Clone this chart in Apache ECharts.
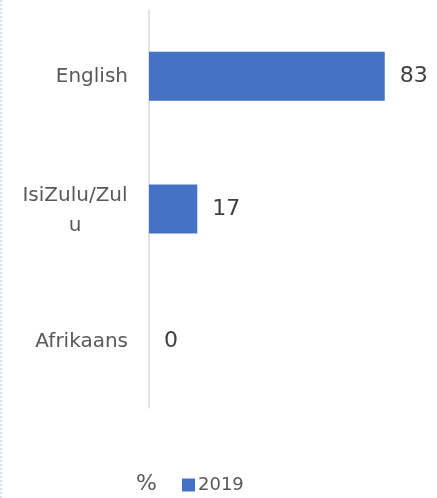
<!DOCTYPE html>
<html>
<head>
<meta charset="utf-8">
<script src="https://cdn.jsdelivr.net/npm/echarts@6/dist/echarts.min.js"></script>
<style>
html,body{margin:0;padding:0;background:#fff;}
#chart{width:437px;height:498px;}
</style>
</head>
<body>
<div id="chart"></div>
<script>
// languages, top to bottom
var categories = ['English', 'IsiZulu/Zulu', 'Afrikaans'];
var values2019 = [83, 17, 0];
var seriesName = '2019';

var myChart = echarts.init(document.getElementById('chart'));
var font = 'DejaVu Sans';

option = {
    animation: false,
    textStyle: { fontFamily: font },
    title: {
        text: '%',
        left: 131,
        top: 468,
        textStyle: { fontFamily: font, fontSize: 22, fontWeight: 'normal', color: '#595959' }
    },
    legend: {
        data: [seriesName],
        left: 177,
        top: 471,
        icon: 'rect',
        itemWidth: 13,
        itemHeight: 13,
        itemGap: 4,
        textStyle: { fontFamily: font, fontSize: 18, color: '#595959', padding: [0, 0, 0, -2] }
    },
    grid: { left: 149, right: 4, top: 10, bottom: 90 },
    xAxis: {
        type: 'value',
        min: 0,
        max: 100,
        show: false
    },
    yAxis: {
        type: 'category',
        inverse: true,
        data: categories,
        axisLine: { show: true, lineStyle: { color: '#d9d9d9', width: 1.5 } },
        axisTick: { show: false },
        axisLabel: {
            margin: 21,
            fontSize: 20,
            color: '#595959',
            lineHeight: 30,
            formatter: function (v) {
                if (v.length > 11) {
                    return '{c|' + v.slice(0, 11) + '}\n{c|' + v.slice(11) + '}';
                }
                return v;
            },
            rich: {
                c: { width: 106, align: 'center', fontSize: 20, color: '#595959', lineHeight: 30, fontFamily: font, padding: [4, 0, 0, 0] }
            }
        }
    },
    series: [
        {
            name: seriesName,
            type: 'bar',
            data: values2019,
            barWidth: 49,
            itemStyle: { color: '#4472C4' },
            label: {
                show: true,
                position: 'right',
                distance: 15,
                fontSize: 22,
                color: '#404040',
                fontFamily: font
            }
        }
    ],
    graphic: [
        {
            type: 'line',
            shape: { x1: 1, y1: 0, x2: 1, y2: 498 },
            style: { stroke: '#a9c4eb', lineWidth: 1, lineDash: [2, 2] }
        }
    ]
};

myChart.setOption(option);
</script>
</body>
</html>
